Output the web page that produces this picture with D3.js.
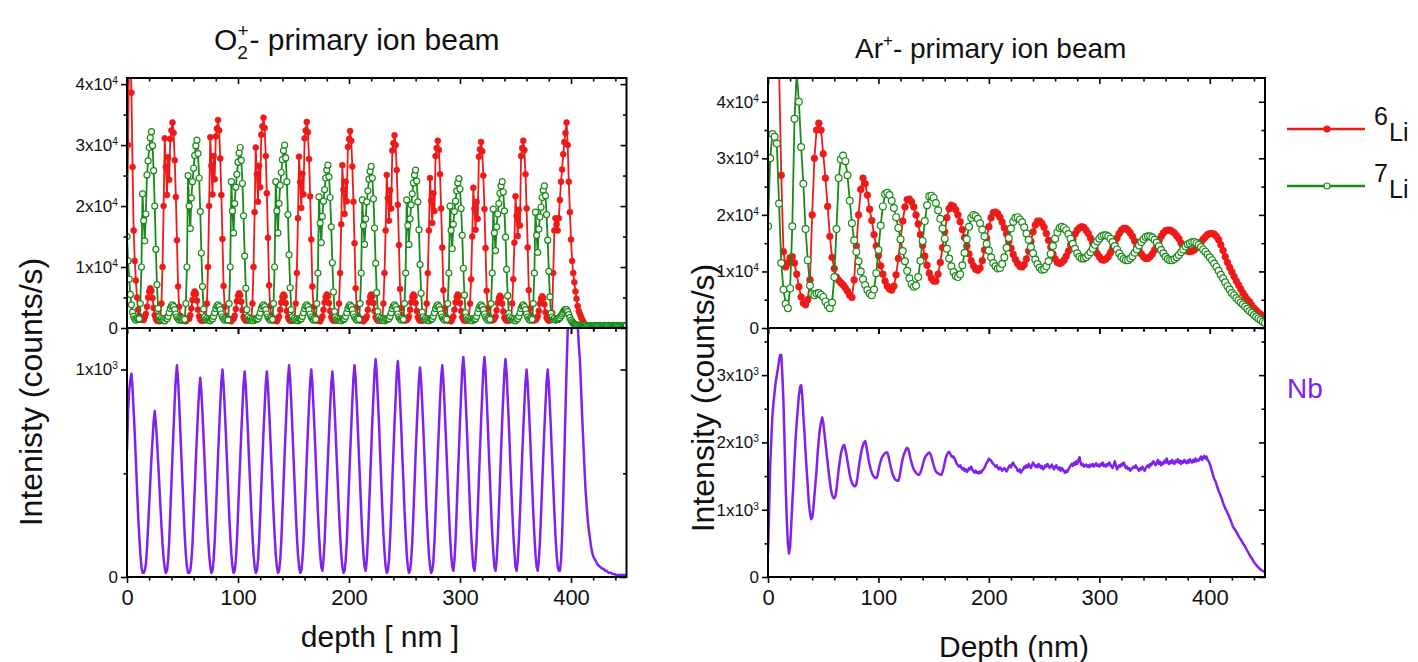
<!DOCTYPE html>
<html>
<head>
<meta charset="utf-8">
<script src="https://cdn.jsdelivr.net/npm/d3@7/dist/d3.min.js"></script>
<style>
  html, body { margin: 0; padding: 0; background: #fff; }
  svg { display: block; }
</style>
</head>
<body>
<script>
// ---------------------------------------------------------------------------
// SIMS depth profiles of a 6Li/7Li isotope multilayer on Nb, sputtered with
// O2+ (left) and Ar+ (right). Intensities are given in 10^3 counts/s.
// Each profile is sampled on a uniform depth grid: depth = start + i * step (nm).
// ---------------------------------------------------------------------------

// O2+ beam, sampled every 1 nm from 0 to 450 nm
const o2Start = 0, o2Step = 1;

const o2Li6 = [
  15, 30, 48, 45, 38.6, 26.4, 16, 11, 7.8, 5,
  3, 2.0, 1.5, 1.4, 1.6, 1.3, 1.8, 2.3, 3.5, 5.0,
  6.0, 6.5, 6.1, 4.9, 3.3, 2.1, 1.5, 1.2, 1.4, 1.1,
  1.6, 4, 10, 20, 31.1, 26.4, 21.8, 28, 24.3, 31,
  32.4, 33.7, 32.0, 27.5, 21.5, 14.4, 6.8, 3.5, 2.0, 1.4,
  1.2, 1.5, 1.3, 1.1, 1.4, 1.6, 1.5, 2.1, 3.2, 4.6,
  5.6, 6.0, 5.6, 4.5, 3.0, 1.9, 1.4, 1.2, 1.5, 1.2,
  1.3, 1.6, 4, 10, 20, 31.3, 26.6, 21.9, 28.2, 24.4,
  31.4, 32.7, 34.1, 32.4, 27.8, 21.8, 14.6, 6.9, 3.5, 2.0,
  1.4, 1.2, 1.5, 1.3, 1.1, 1.4, 1.5, 2.0, 3.1, 4.4,
  5.3, 5.7, 5.4, 4.3, 2.9, 1.8, 1.4, 1.2, 1.5, 1.2,
  1.3, 1.6, 1.3, 4, 10, 19, 29.6, 25.2, 20.7, 26.6,
  23.1, 31.7, 33.1, 34.5, 32.8, 28.2, 22.1, 14.8, 7.0, 3.6,
  2.0, 1.4, 1.2, 1.5, 1.3, 1.1, 1.5, 1.9, 3.0, 4.2,
  5.1, 5.5, 5.2, 4.1, 2.8, 1.8, 1.4, 1.2, 1.5, 1.2,
  1.3, 1.6, 4, 9, 18, 28.1, 23.9, 19.7, 25.3, 21.9,
  31.1, 32.4, 33.8, 32.1, 27.7, 21.6, 14.5, 6.8, 3.5, 2.0,
  1.4, 1.2, 1.5, 1.3, 1.1, 1.5, 1.9, 3.0, 4.2, 5.1,
  5.5, 5.2, 4.1, 2.8, 1.8, 1.4, 1.2, 1.5, 1.2, 1.3,
  1.6, 4, 9, 17, 26.7, 22.7, 18.7, 24.0, 20.8, 29.7,
  31.0, 32.3, 30.7, 26.5, 20.7, 13.9, 6.5, 3.4, 2.0, 1.4,
  1.2, 1.5, 1.3, 1.1, 1.4, 1.5, 1.9, 3.0, 4.2, 5.1,
  5.5, 5.2, 4.1, 2.8, 1.8, 1.4, 1.2, 1.5, 1.2, 1.3,
  1.6, 4, 9, 16, 25.1, 21.3, 17.6, 22.6, 19.6, 29.1,
  30.3, 31.6, 30.0, 25.9, 20.2, 13.6, 6.4, 3.3, 2.0, 1.4,
  1.2, 1.5, 1.3, 1.5, 1.9, 3.0, 4.2, 5.1, 5.5, 5.2,
  4.1, 2.8, 1.8, 1.4, 1.2, 1.5, 1.2, 1.3, 1.6, 1.4,
  4, 9, 16, 24.6, 20.9, 17.2, 22.1, 19.2, 28.2, 29.5,
  30.7, 29.2, 25.2, 19.6, 13.2, 6.2, 3.2, 2.0, 1.4, 1.2,
  1.5, 1.3, 1.1, 1.5, 1.9, 3.0, 4.2, 5.1, 5.5, 5.2,
  4.1, 2.8, 1.8, 1.4, 1.2, 1.5, 1.2, 1.3, 1.6, 4,
  8, 15, 23.0, 19.6, 16.1, 20.7, 17.9, 28.1, 29.3, 30.5,
  29.0, 25.0, 19.5, 13.1, 6.1, 3.2, 2.0, 1.4, 1.2, 1.5,
  1.3, 1.5, 1.9, 2.9, 4.1, 4.9, 5.3, 5.0, 4.0, 2.7,
  1.7, 1.4, 1.2, 1.5, 1.2, 1.3, 1.6, 4, 8, 14,
  21.6, 18.4, 15.1, 19.4, 16.8, 28.2, 29.5, 30.7, 29.2, 25.2,
  19.6, 13.2, 6.2, 3.2, 2.0, 1.4, 1.2, 1.5, 1.3, 1.5,
  1.9, 2.8, 4.0, 4.8, 5.2, 4.9, 3.9, 2.6, 1.7, 1.4,
  1.2, 1.5, 1.3, 2.5, 9, 16, 18, 17, 16, 18,
  21, 24, 26, 28.5, 30.5, 32, 33.7, 30, 24, 19,
  14.5, 11, 9, 7.5, 6, 4.8, 3.6, 2.8, 2.3, 1.8,
  1.4, 1.0, 0.7, 0.5, 0.4, 0.3, 0.3, 0.25, 0.25, 0.2,
  0.2, 0.25, 0.2, 0.2, 0.25, 0.2, 0.2, 0.2, 0.25, 0.2,
  0.2, 0.2, 0.25, 0.2, 0.2, 0.2, 0.25, 0.2, 0.2, 0.2,
  0.25, 0.2, 0.2, 0.2, 0.25, 0.2, 0.2, 0.2, 0.25, 0.2,
  0.2
];

const o2Li7 = [
  15, 11, 8, 5.5, 3.8, 2.6, 1.9, 1.5, 1.3, 1.6,
  1.4, 1.5, 4, 10, 22, 17.6, 14.3, 18.7, 25.1, 27.4,
  29.6, 31.2, 32.2, 29.9, 25.8, 20.0, 12.9, 7.1, 3.2, 1.8,
  1.4, 1.6, 1.3, 1.5, 1.2, 1.6, 1.5, 1.9, 2.5, 3.2,
  3.6, 3.8, 3.5, 3.0, 2.3, 1.8, 1.5, 1.3, 1.6, 1.4,
  1.3, 1.6, 1.4, 4, 10, 25, 20, 16.3, 21.3, 24,
  26.2, 28.3, 29.9, 30.8, 28.6, 24.6, 19.1, 12.3, 6.8, 3.1,
  1.8, 1.4, 1.6, 1.3, 1.5, 1.2, 1.5, 1.5, 1.9, 2.5,
  3.2, 3.6, 3.8, 3.5, 3.0, 2.3, 1.8, 1.5, 1.3, 1.6,
  1.4, 1.3, 4, 10, 24, 19.2, 15.6, 20.4, 23.1, 25.2,
  27.2, 28.7, 29.6, 27.5, 23.7, 18.4, 11.8, 6.5, 3.0, 1.8,
  1.4, 1.6, 1.3, 1.5, 1.2, 1.5, 1.4, 1.5, 1.5, 1.9,
  2.5, 3.2, 3.6, 3.8, 3.5, 3.0, 2.3, 1.8, 1.5, 1.3,
  1.6, 1.4, 4, 10, 24, 19.2, 15.6, 20.4, 23.4, 25.5,
  27.6, 29.1, 30.0, 27.9, 24.0, 18.6, 12.0, 6.6, 3.0, 1.8,
  1.4, 1.6, 1.3, 1.5, 1.2, 1.5, 1.4, 1.5, 1.9, 2.5,
  3.2, 3.6, 3.8, 3.5, 3.0, 2.3, 1.8, 1.5, 1.3, 1.6,
  1.4, 4, 9, 21.5, 17.2, 14.0, 18.3, 20.8, 22.7, 24.6,
  25.9, 26.7, 24.8, 21.4, 16.6, 10.7, 5.9, 2.7, 1.8, 1.4,
  1.6, 1.3, 1.5, 1.2, 1.5, 1.4, 1.5, 1.9, 2.5, 3.2,
  3.6, 3.8, 3.5, 3.0, 2.3, 1.8, 1.5, 1.3, 1.6, 1.4,
  4, 9, 21, 16.8, 13.7, 17.9, 20.7, 22.5, 24.4, 25.7,
  26.5, 24.6, 21.2, 16.4, 10.6, 5.8, 2.7, 1.8, 1.4, 1.6,
  1.3, 1.5, 1.2, 1.5, 1.4, 1.5, 1.5, 1.9, 2.5, 3.2,
  3.6, 3.8, 3.5, 3.0, 2.3, 1.8, 1.5, 1.3, 1.6, 1.4,
  4, 9, 21, 16.8, 13.7, 17.9, 20.2, 22.0, 23.8, 25.1,
  25.9, 24.1, 20.7, 16.1, 10.4, 5.7, 2.6, 1.8, 1.4, 1.6,
  1.3, 1.5, 1.2, 1.5, 1.4, 1.5, 1.9, 2.5, 3.2, 3.6,
  3.8, 3.5, 3.0, 2.3, 1.8, 1.5, 1.3, 1.6, 1.4, 4,
  9, 20, 16, 13, 17, 19.1, 20.8, 22.5, 23.8, 24.5,
  22.8, 19.6, 15.2, 9.8, 5.4, 2.5, 1.8, 1.4, 1.6, 1.3,
  1.5, 1.2, 1.5, 1.4, 1.5, 1.9, 2.5, 3.2, 3.6, 3.8,
  3.5, 3.0, 2.3, 1.8, 1.5, 1.3, 1.6, 1.4, 4, 9,
  19.5, 15.6, 12.7, 16.6, 18.7, 20.4, 22.1, 23.3, 24.0, 22.3,
  19.2, 14.9, 9.6, 5.3, 2.4, 1.8, 1.4, 1.6, 1.3, 1.5,
  1.2, 1.5, 1.5, 1.9, 2.5, 3.2, 3.6, 3.8, 3.5, 3.0,
  2.3, 1.8, 1.5, 1.3, 1.6, 1.4, 4, 9, 19, 15.2,
  12.4, 16.2, 18.2, 19.8, 21.4, 22.6, 23.3, 21.7, 18.6, 14.4,
  9.3, 5.1, 2.4, 1.8, 1.4, 1.6, 1.3, 1.5, 1.4, 1.5,
  1.7, 2.0, 2.3, 2.6, 2.9, 3.0, 3.0, 2.7, 2.2, 1.7,
  1.3, 1.0, 0.8, 0.65, 0.55, 0.5, 0.45, 0.45, 0.4, 0.4,
  0.4, 0.45, 0.4, 0.4, 0.45, 0.4, 0.4, 0.4, 0.45, 0.4,
  0.4, 0.4, 0.45, 0.4, 0.4, 0.4, 0.45, 0.4, 0.4, 0.4,
  0.45, 0.4, 0.4, 0.4, 0.45, 0.4, 0.4, 0.4, 0.45, 0.4,
  0.4, 0.4, 0.45, 0.4, 0.4, 0.4, 0.45, 0.4, 0.4, 0.4,
  0.4
];

const o2Nb = [
  0.61, 0.80, 0.90, 0.95, 0.98, 0.91, 0.80, 0.69, 0.56, 0.43,
  0.30, 0.20, 0.11, 0.05, 0.02, 0.02, 0.03, 0.06, 0.14, 0.24,
  0.35, 0.46, 0.57, 0.66, 0.75, 0.80, 0.74, 0.66, 0.56, 0.46,
  0.35, 0.25, 0.16, 0.09, 0.04, 0.02, 0.03, 0.08, 0.17, 0.31,
  0.45, 0.59, 0.72, 0.85, 0.96, 1.02, 0.95, 0.84, 0.71, 0.58,
  0.45, 0.32, 0.20, 0.11, 0.05, 0.02, 0.02, 0.03, 0.08, 0.16,
  0.29, 0.42, 0.56, 0.68, 0.80, 0.90, 0.96, 0.89, 0.79, 0.67,
  0.55, 0.42, 0.30, 0.19, 0.11, 0.05, 0.02, 0.03, 0.08, 0.17,
  0.30, 0.44, 0.58, 0.71, 0.83, 0.94, 1.00, 0.93, 0.82, 0.70,
  0.57, 0.44, 0.31, 0.20, 0.11, 0.05, 0.02, 0.03, 0.08, 0.17,
  0.30, 0.44, 0.57, 0.70, 0.82, 0.93, 0.99, 0.92, 0.81, 0.69,
  0.56, 0.44, 0.31, 0.20, 0.11, 0.05, 0.02, 0.03, 0.08, 0.17,
  0.30, 0.44, 0.57, 0.70, 0.82, 0.93, 0.99, 0.92, 0.81, 0.69,
  0.56, 0.44, 0.31, 0.20, 0.11, 0.05, 0.02, 0.03, 0.08, 0.17,
  0.31, 0.45, 0.59, 0.72, 0.85, 0.96, 1.02, 0.95, 0.84, 0.71,
  0.58, 0.45, 0.32, 0.20, 0.11, 0.05, 0.02, 0.03, 0.08, 0.17,
  0.30, 0.44, 0.58, 0.71, 0.83, 0.94, 1.00, 0.93, 0.82, 0.70,
  0.57, 0.44, 0.31, 0.20, 0.11, 0.05, 0.03, 0.08, 0.17, 0.30,
  0.44, 0.57, 0.70, 0.82, 0.93, 0.99, 0.92, 0.81, 0.69, 0.56,
  0.44, 0.31, 0.20, 0.11, 0.05, 0.02, 0.03, 0.08, 0.17, 0.31,
  0.45, 0.59, 0.72, 0.85, 0.96, 1.02, 0.95, 0.84, 0.71, 0.58,
  0.45, 0.32, 0.20, 0.11, 0.05, 0.03, 0.08, 0.18, 0.32, 0.46,
  0.61, 0.75, 0.87, 0.99, 1.05, 0.98, 0.86, 0.74, 0.60, 0.46,
  0.33, 0.21, 0.12, 0.05, 0.02, 0.03, 0.08, 0.18, 0.31, 0.46,
  0.60, 0.74, 0.86, 0.98, 1.04, 0.97, 0.85, 0.73, 0.59, 0.46,
  0.32, 0.21, 0.11, 0.05, 0.02, 0.03, 0.08, 0.17, 0.30, 0.44,
  0.59, 0.72, 0.84, 0.95, 1.01, 0.94, 0.83, 0.71, 0.58, 0.44,
  0.31, 0.20, 0.11, 0.05, 0.02, 0.03, 0.08, 0.17, 0.31, 0.45,
  0.59, 0.72, 0.85, 0.96, 1.02, 0.95, 0.84, 0.71, 0.58, 0.45,
  0.32, 0.20, 0.11, 0.05, 0.03, 0.08, 0.18, 0.32, 0.47, 0.61,
  0.75, 0.88, 1.00, 1.06, 0.99, 0.87, 0.74, 0.60, 0.47, 0.33,
  0.21, 0.12, 0.05, 0.03, 0.08, 0.18, 0.32, 0.47, 0.61, 0.75,
  0.88, 1.00, 1.06, 0.99, 0.87, 0.74, 0.60, 0.47, 0.33, 0.21,
  0.12, 0.05, 0.03, 0.08, 0.18, 0.32, 0.46, 0.61, 0.75, 0.87,
  0.99, 1.05, 0.98, 0.86, 0.74, 0.60, 0.46, 0.33, 0.21, 0.12,
  0.05, 0.03, 0.08, 0.17, 0.30, 0.44, 0.58, 0.71, 0.83, 0.94,
  1.00, 0.93, 0.82, 0.70, 0.57, 0.44, 0.31, 0.20, 0.11, 0.05,
  0.03, 0.08, 0.17, 0.30, 0.44, 0.58, 0.71, 0.83, 0.94, 1.00,
  0.93, 0.82, 0.70, 0.57, 0.44, 0.31, 0.20, 0.11, 0.05, 0.03,
  0.03, 0.08, 0.20, 0.38, 0.58, 0.80, 1.00, 1.18, 1.32, 1.42,
  1.48, 1.52, 1.53, 1.50, 1.44, 1.34, 1.22, 1.12, 1.05, 0.92,
  0.78, 0.66, 0.54, 0.43, 0.35, 0.28, 0.23, 0.19, 0.15, 0.12,
  0.10, 0.09, 0.08, 0.07, 0.06, 0.055, 0.05, 0.045, 0.04, 0.04,
  0.035, 0.03, 0.03, 0.025, 0.02, 0.02, 0.02, 0.015, 0.015, 0.015,
  0.01, 0.01, 0.01, 0.01, 0.01, 0.01, 0.01, 0.01, 0.01, 0.01,
  0.01
];

// Ar+ beam: Li isotopes sampled every 2 nm, Nb every 1 nm
const arLiStep = 2;
const arLi6Start = 10;
const arLi7Start = 0;
const arNbStart = 0, arNbStep = 1;

const arLi6 = [
  46, 27, 13.5, 10.8, 11.5, 12.4, 12.6, 11.5, 9.5, 7.3,
  5.5, 4.4, 4.1, 5.0, 8.5, 20, 30, 35, 36.2, 35,
  30.8, 26.5, 21.5, 16.2, 12.5, 10.5, 9.0, 8.4, 8.0, 7.6,
  7.1, 6.5, 5.8, 5.4, 8.5, 14.5, 20, 24.5, 26.5, 25.5,
  23.5, 21, 19, 16.5, 14.5, 12.8, 11, 9.5, 8.3, 7.4,
  6.9, 6.7, 7.4, 9.4, 12.3, 15.6, 18.9, 21.4, 22.7, 22.8,
  22.3, 21.4, 20.0, 18.4, 16.5, 14.6, 12.7, 11.1, 9.7, 8.8,
  8.3, 8.3, 9.5, 11.6, 14.2, 17.0, 19.5, 21.1, 21.7, 21.5,
  20.9, 20.0, 18.8, 17.4, 16.0, 14.5, 13.1, 11.9, 11.0, 10.4,
  10.2, 10.6, 11.9, 13.8, 15.9, 17.9, 19.5, 20.4, 20.5, 20.2,
  19.6, 18.7, 17.7, 16.6, 15.3, 14.1, 13.0, 12.1, 11.4, 10.9,
  10.8, 11.2, 12.2, 13.6, 15.3, 17.0, 18.2, 18.9, 18.9, 18.5,
  17.8, 16.7, 15.5, 14.3, 13.1, 12.2, 11.6, 11.4, 11.6, 12.0,
  12.7, 13.6, 14.7, 15.7, 16.6, 17.3, 17.7, 17.9, 17.8, 17.3,
  16.7, 15.9, 15.0, 14.0, 13.2, 12.6, 12.1, 12.0, 12.2, 12.6,
  13.3, 14.1, 15.0, 15.9, 16.7, 17.3, 17.6, 17.6, 17.3, 16.8,
  16.2, 15.4, 14.5, 13.7, 13.1, 12.6, 12.3, 12.3, 12.6, 13.1,
  13.8, 14.6, 15.4, 16.2, 16.8, 17.2, 17.3, 17.3, 17.1, 16.8,
  16.3, 15.8, 15.0, 14.4, 13.9, 13.6, 13.5, 13.6, 13.8, 14.2,
  14.7, 15.2, 15.7, 16.1, 16.5, 16.7, 16.7, 16.6, 16.2, 15.6,
  14.7, 13.7, 12.6, 11.6, 10.7, 9.9, 9.1, 8.3, 7.6, 6.9,
  6.2, 5.6, 5.0, 4.6, 4.0, 3.5, 3.1, 2.7, 2.4, 2.2,
  2.0
];

const arLi7 = [
  18, 30, 34.3, 33.8, 32.6, 22, 11.5, 6.8, 4.3, 3.5,
  7.0, 18, 37, 45, 40, 32, 25.5, 17.5, 12, 7.5,
  6.0, 5.8, 6.1, 6.2, 5.9, 5.5, 4.7, 4.0, 3.5, 4.5,
  9, 17.5, 26.5, 29.8, 30.5, 29.5, 27, 22.5, 18.5, 15.5,
  13.5, 11.8, 10.0, 8.6, 7.6, 6.7, 6.1, 5.8, 6.8, 9.7,
  13.8, 18.1, 21.5, 23.7, 23.9, 23.5, 22.5, 21.2, 19.6, 17.7,
  15.7, 13.6, 11.8, 10.1, 8.8, 7.8, 7.3, 7.5, 9.0, 11.9,
  15.4, 18.9, 21.7, 23.3, 23.4, 23.0, 22.1, 20.8, 19.3, 17.6,
  15.8, 14.0, 12.3, 10.9, 9.9, 9.2, 9.0, 9.5, 11.1, 13.3,
  15.7, 17.9, 19.5, 20.0, 19.8, 19.3, 18.5, 17.4, 16.2, 14.9,
  13.7, 12.5, 11.5, 10.9, 10.5, 10.6, 11.3, 12.5, 14.2, 15.9,
  17.6, 18.8, 19.5, 19.6, 19.2, 18.7, 17.8, 16.7, 15.6, 14.3,
  13.2, 12.1, 11.3, 10.7, 10.3, 10.4, 10.9, 11.8, 13.1, 14.5,
  15.8, 16.9, 17.7, 17.9, 17.7, 17.3, 16.6, 15.8, 14.9, 14.0,
  13.2, 12.6, 12.3, 12.3, 12.5, 12.9, 13.4, 14.0, 14.7, 15.3,
  15.8, 16.2, 16.4, 16.4, 16.2, 15.8, 15.2, 14.5, 13.9, 13.2,
  12.6, 12.2, 12.0, 12.0, 12.3, 12.7, 13.3, 13.9, 14.6, 15.2,
  15.7, 16.1, 16.2, 16.2, 16.0, 15.6, 15.1, 14.5, 13.8, 13.2,
  12.6, 12.2, 12.0, 12.0, 12.2, 12.5, 12.9, 13.4, 13.9, 14.4,
  14.8, 15.0, 15.2, 15.2, 15.0, 14.7, 14.3, 13.9, 13.5, 13.0,
  12.5, 12.0, 11.4, 10.8, 10.1, 9.4, 8.8, 8.1, 7.4, 6.8,
  6.2, 5.8, 5.3, 4.9, 4.5, 4.2, 3.8, 3.4, 3.0, 2.7,
  2.3, 2.0, 1.7, 1.4, 1.1, 0.9
];

const arNb = [
  0.35, 1.0, 1.65, 2.05, 2.4, 2.6, 2.75, 2.9, 3.0, 3.1,
  3.22, 3.3, 3.3, 3.0, 2.6, 2.0, 1.35, 0.85, 0.5, 0.35,
  0.45, 0.75, 1.1, 1.4, 1.75, 2.05, 2.3, 2.5, 2.7, 2.82,
  2.85, 2.7, 2.4, 2.15, 1.85, 1.6, 1.35, 1.1, 0.95, 0.86,
  0.88, 1.0, 1.2, 1.4, 1.6, 1.85, 2.05, 2.2, 2.3, 2.37,
  2.3, 2.15, 2.0, 1.85, 1.7, 1.55, 1.42, 1.3, 1.22, 1.18,
  1.17, 1.2, 1.3, 1.45, 1.6, 1.72, 1.83, 1.9, 1.95, 1.96,
  1.9, 1.82, 1.72, 1.62, 1.52, 1.45, 1.4, 1.37, 1.35, 1.35,
  1.38, 1.48, 1.6, 1.72, 1.82, 1.9, 1.96, 2.0, 2.02, 1.95,
  1.85, 1.75, 1.67, 1.6, 1.55, 1.51, 1.49, 1.47, 1.47, 1.5,
  1.58, 1.66, 1.72, 1.77, 1.8, 1.82, 1.84, 1.85, 1.85, 1.8,
  1.72, 1.65, 1.58, 1.52, 1.48, 1.45, 1.44, 1.43, 1.43, 1.48,
  1.58, 1.68, 1.76, 1.82, 1.86, 1.9, 1.92, 1.9, 1.84, 1.76,
  1.7, 1.64, 1.6, 1.57, 1.55, 1.53, 1.52, 1.52, 1.55, 1.6,
  1.66, 1.72, 1.77, 1.8, 1.82, 1.84, 1.85, 1.83, 1.78, 1.72,
  1.66, 1.61, 1.57, 1.55, 1.54, 1.53, 1.52, 1.52, 1.56, 1.62,
  1.7, 1.77, 1.82, 1.85, 1.86, 1.83, 1.8, 1.78, 1.79, 1.76,
  1.72, 1.68, 1.66, 1.64, 1.66, 1.63, 1.6, 1.62, 1.58, 1.6,
  1.56, 1.58, 1.62, 1.6, 1.64, 1.6, 1.57, 1.55, 1.58, 1.55,
  1.56, 1.54, 1.57, 1.55, 1.58, 1.6, 1.62, 1.66, 1.7, 1.72,
  1.76, 1.74, 1.73, 1.7, 1.68, 1.66, 1.64, 1.66, 1.62, 1.6,
  1.63, 1.61, 1.58, 1.6, 1.62, 1.6, 1.57, 1.6, 1.64, 1.66,
  1.63, 1.68, 1.7, 1.66, 1.64, 1.62, 1.58, 1.57, 1.6, 1.55,
  1.58, 1.6, 1.64, 1.62, 1.66, 1.63, 1.68, 1.65, 1.62, 1.66,
  1.7, 1.67, 1.64, 1.66, 1.63, 1.68, 1.66, 1.62, 1.65, 1.6,
  1.62, 1.66, 1.64, 1.68, 1.65, 1.62, 1.64, 1.67, 1.63, 1.6,
  1.64, 1.66, 1.62, 1.6, 1.63, 1.58, 1.62, 1.6, 1.57, 1.55,
  1.58, 1.56, 1.6, 1.63, 1.66, 1.68, 1.65, 1.7, 1.67, 1.72,
  1.68, 1.74, 1.78, 1.7, 1.66, 1.68, 1.64, 1.66, 1.67, 1.64,
  1.66, 1.63, 1.67, 1.65, 1.68, 1.64, 1.66, 1.69, 1.65, 1.67,
  1.64, 1.68, 1.66, 1.7, 1.65, 1.67, 1.64, 1.68, 1.66, 1.7,
  1.67, 1.64, 1.62, 1.66, 1.72, 1.66, 1.6, 1.63, 1.66, 1.64,
  1.68, 1.66, 1.7, 1.66, 1.62, 1.64, 1.6, 1.62, 1.58, 1.6,
  1.62, 1.64, 1.62, 1.66, 1.63, 1.6, 1.58, 1.62, 1.6, 1.64,
  1.6, 1.58, 1.62, 1.64, 1.66, 1.63, 1.68, 1.66, 1.7, 1.72,
  1.68, 1.66, 1.7, 1.74, 1.68, 1.71, 1.66, 1.7, 1.68, 1.73,
  1.7, 1.76, 1.7, 1.68, 1.72, 1.69, 1.74, 1.7, 1.68, 1.73,
  1.71, 1.75, 1.7, 1.73, 1.68, 1.72, 1.7, 1.74, 1.71, 1.69,
  1.73, 1.7, 1.75, 1.72, 1.7, 1.74, 1.71, 1.76, 1.72, 1.74,
  1.73, 1.76, 1.79, 1.74, 1.78, 1.8, 1.76, 1.79, 1.74, 1.72,
  1.68, 1.63, 1.57, 1.51, 1.46, 1.43, 1.38, 1.33, 1.28, 1.24,
  1.2, 1.16, 1.1, 1.06, 1.02, 0.99, 0.95, 0.92, 0.88, 0.84,
  0.79, 0.75, 0.72, 0.7, 0.67, 0.64, 0.61, 0.58, 0.56, 0.53,
  0.5, 0.48, 0.45, 0.42, 0.39, 0.36, 0.33, 0.3, 0.28, 0.25,
  0.22, 0.2, 0.18, 0.16, 0.14, 0.13, 0.11, 0.1, 0.09, 0.08,
  0.08
];

// axis ticks (depth in nm, intensity in 10^3 counts/s)
const depthMajor = [0, 100, 200, 300, 400];
const depthMinor = [20, 40, 60, 80, 120, 140, 160, 180, 220, 240, 260, 280, 320, 340, 360, 380, 420, 440];
const liMajor = [0, 10, 20, 30, 40];
const liMinor = [5, 15, 25, 35];
const nbMajorO2 = [0, 1];
const nbMinorO2 = [0.5];
const nbMajorAr = [0, 1, 2, 3];
const nbMinorAr = [0.5, 1.5, 2.5, 3.5];

const RED = "#ee1a1a", GREEN = "#188a18", PURPLE = "#8022ee";
const FONT = '"Liberation Sans", Arial, Helvetica, sans-serif';

const svg = d3.select("body").append("svg")
  .attr("width", 1418).attr("height", 662)
  .style("font-family", FONT);

// panel scales
const xO2 = d3.scaleLinear().domain([0, 450]).range([127, 626.5]);
const xAr = d3.scaleLinear().domain([0, 450]).range([768, 1265]);
const yO2Li = d3.scaleLinear().domain([0, 41]).range([328, 78]);
const yO2Nb = d3.scaleLinear().domain([0, 1.2]).range([577, 328]);
const yArLi = d3.scaleLinear().domain([0, 44.2]).range([328, 78]);
const yArNb = d3.scaleLinear().domain([0, 3.7]).range([577, 328]);

let clipId = 0;
function panelGroup(x, y) {
  const id = "clip" + (clipId++);
  const [xa, xb] = x.range(), [yb, yt] = y.range();
  svg.append("clipPath").attr("id", id).append("rect")
    .attr("x", xa).attr("y", yt).attr("width", xb - xa).attr("height", yb - yt);
  return svg.append("g").attr("clip-path", `url(#${id})`);
}

function toPoints(start, step, values) {
  return values.map((v, i) => [start + i * step, v]);
}

function drawSeries(g, x, y, pts, opt) {
  const line = d3.line().x(d => x(d[0])).y(d => y(d[1]));
  g.append("path").datum(pts).attr("d", line)
    .attr("fill", "none").attr("stroke", opt.color)
    .attr("stroke-width", opt.width).attr("stroke-linejoin", "round");
  if (opt.marker) {
    g.append("g").selectAll("circle").data(pts).join("circle")
      .attr("cx", d => x(d[0])).attr("cy", d => y(d[1])).attr("r", opt.r)
      .attr("fill", opt.marker === "filled" ? opt.color : "#fff")
      .attr("stroke", opt.color).attr("stroke-width", opt.marker === "filled" ? 0.6 : 1.2);
  }
}

function sciLabel(t, v, exp) {
  t.text(null);
  if (v === 0) { t.text("0"); return; }
  const m = exp === 4 ? v / 10 : v;
  t.append("tspan").text(m + "x10");
  t.append("tspan").attr("font-size", "0.6em").attr("dy", "-0.6em").text(exp);
}

function addAxis(g, axis, values, size, transform, labelled, pad) {
  axis.tickValues(values).tickSizeInner(size).tickSizeOuter(0).tickPadding(pad || 4);
  if (!labelled) axis.tickFormat(() => "");
  const sel = g.append("g").attr("transform", transform).call(axis);
  sel.select(".domain").remove();
  sel.selectAll(".tick line").attr("stroke", "#000").attr("stroke-width", 1.6);
  sel.attr("font-family", FONT);
  return sel;
}

function drawFrame(x, y, yMajor, yMinor, exp, xLabelled) {
  const [xa, xb] = x.range(), [yb, yt] = y.range();
  const g = svg.append("g");
  addAxis(g, d3.axisLeft(y), yMinor, 3.5, `translate(${xa},0)`, false);
  const left = addAxis(g, d3.axisLeft(y), yMajor, 6, `translate(${xa},0)`, true, 3);
  left.selectAll(".tick text").attr("font-size", 17).attr("fill", "#111")
    .each(function (v) { sciLabel(d3.select(this), v, exp); });
  addAxis(g, d3.axisLeft(y), yMinor, 3.5, `translate(${xb},0)`, false);
  addAxis(g, d3.axisLeft(y), yMajor, 6, `translate(${xb},0)`, false);
  addAxis(g, d3.axisBottom(x), depthMinor, 3.5, `translate(0,${yt})`, false);
  addAxis(g, d3.axisBottom(x), depthMajor, 6, `translate(0,${yt})`, false);
  addAxis(g, d3.axisBottom(x), depthMinor, 3.5, `translate(0,${yb})`, false);
  const bottom = addAxis(g, d3.axisBottom(x), depthMajor, 6, `translate(0,${yb})`, xLabelled, 6);
  bottom.selectAll(".tick text").attr("font-size", 22).attr("fill", "#111");
  g.append("rect").attr("x", xa).attr("y", yt).attr("width", xb - xa).attr("height", yb - yt)
    .attr("fill", "none").attr("stroke", "#000").attr("stroke-width", 2);
}

// ---- O2+ panels ----
const gO2Li = panelGroup(xO2, yO2Li);
drawSeries(gO2Li, xO2, yO2Li, toPoints(o2Start, o2Step, o2Li6), { color: RED, width: 1.8, marker: "filled", r: 3 });
drawSeries(gO2Li, xO2, yO2Li, toPoints(o2Start, o2Step, o2Li7), { color: GREEN, width: 1.8, marker: "open", r: 3 });
const gO2Nb = panelGroup(xO2, yO2Nb);
drawSeries(gO2Nb, xO2, yO2Nb, toPoints(o2Start, o2Step, o2Nb), { color: PURPLE, width: 2.5 });

// ---- Ar+ panels ----
const gArLi = panelGroup(xAr, yArLi);
drawSeries(gArLi, xAr, yArLi, toPoints(arLi6Start, arLiStep, arLi6), { color: RED, width: 1.8, marker: "filled", r: 3.4 });
drawSeries(gArLi, xAr, yArLi, toPoints(arLi7Start, arLiStep, arLi7), { color: GREEN, width: 1.8, marker: "open", r: 3.4 });
const gArNb = panelGroup(xAr, yArNb);
drawSeries(gArNb, xAr, yArNb, toPoints(arNbStart, arNbStep, arNb), { color: PURPLE, width: 2.5 });

drawFrame(xO2, yO2Li, liMajor, liMinor, 4, false);
drawFrame(xO2, yO2Nb, nbMajorO2, nbMinorO2, 3, true);
drawFrame(xAr, yArLi, liMajor, liMinor, 4, false);
drawFrame(xAr, yArNb, nbMajorAr, nbMinorAr, 3, true);

// ---- titles ----
const t1 = svg.append("text").attr("x", 214).attr("y", 50).attr("font-size", 30).attr("fill", "#111");
t1.append("tspan").text("O");
t1.append("tspan").attr("font-size", 19).attr("dy", 9).text("2");
t1.append("tspan").attr("font-size", 19).attr("dx", -10.5).attr("dy", -22).text("+");
t1.append("tspan").attr("dy", 13).attr("dx", 1).text("- primary ion beam");

const t2 = svg.append("text").attr("x", 855).attr("y", 58).attr("font-size", 28).attr("fill", "#111");
t2.append("tspan").text("Ar");
t2.append("tspan").attr("font-size", 17).attr("dy", -12).text("+");
t2.append("tspan").attr("dy", 12).text("- primary ion beam");

// ---- axis titles ----
svg.append("text").attr("transform", "translate(42,392) rotate(-90)")
  .attr("text-anchor", "middle").attr("font-size", 32).attr("fill", "#111")
  .text("Intenisty (counts/s)");
svg.append("text").attr("transform", "translate(714,398) rotate(-90)")
  .attr("text-anchor", "middle").attr("font-size", 32).attr("fill", "#111")
  .text("Intensity (counts/s)");
svg.append("text").attr("x", 380).attr("y", 647).attr("text-anchor", "middle")
  .attr("font-size", 30).attr("fill", "#111").text("depth [ nm ]");
svg.append("text").attr("x", 1014).attr("y", 657).attr("text-anchor", "middle")
  .attr("font-size", 30).attr("fill", "#111").text("Depth (nm)");

// ---- legend ----
const legend = [
  { mass: "6", color: RED, marker: "filled", y: 129 },
  { mass: "7", color: GREEN, marker: "open", y: 186 }
];
legend.forEach(d => {
  svg.append("line").attr("x1", 1287).attr("x2", 1365).attr("y1", d.y).attr("y2", d.y)
    .attr("stroke", d.color).attr("stroke-width", 2.4);
  svg.append("circle").attr("cx", 1327).attr("cy", d.y).attr("r", 3)
    .attr("fill", d.marker === "filled" ? d.color : "#fff").attr("stroke", d.color).attr("stroke-width", 1.2);
  svg.append("text").attr("x", 1374).attr("y", d.y - 4).attr("font-size", 25).attr("fill", "#111").text(d.mass);
  svg.append("text").attr("x", 1389).attr("y", d.y + 12).attr("font-size", 25).attr("fill", "#111").text("Li");
});
svg.append("text").attr("x", 1287).attr("y", 398).attr("font-size", 28).attr("fill", PURPLE).text("Nb");
</script>
</body>
</html>
